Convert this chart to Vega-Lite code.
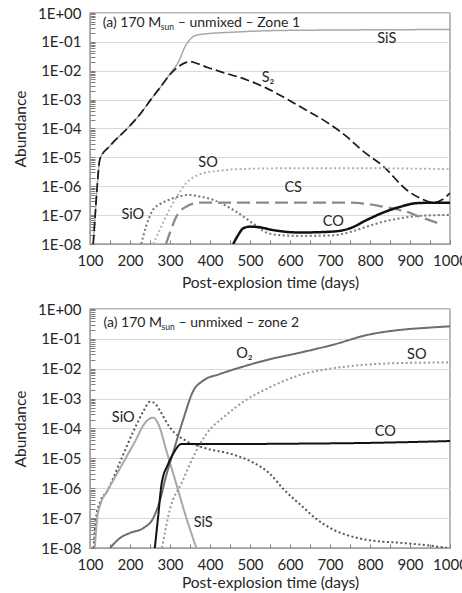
{
  "$schema": "https://vega.github.io/schema/vega-lite/v6.json",
  "padding": {"left": 12, "top": 5, "right": 0, "bottom": 0},
  "spacing": 9,
  "datasets": {
    "zone1": [
      {"species": "SiS", "day": 108, "abundance": 1e-8},
      {"species": "SiS", "day": 113, "abundance": 1e-7},
      {"species": "SiS", "day": 118, "abundance": 1e-6},
      {"species": "SiS", "day": 125, "abundance": 8.9e-6},
      {"species": "SiS", "day": 150, "abundance": 2.5e-5},
      {"species": "SiS", "day": 198, "abundance": 1.17e-4},
      {"species": "SiS", "day": 228, "abundance": 3.5e-4},
      {"species": "SiS", "day": 252, "abundance": 1e-3},
      {"species": "SiS", "day": 280, "abundance": 3.2e-3},
      {"species": "SiS", "day": 300, "abundance": 7.9e-3},
      {"species": "SiS", "day": 320, "abundance": 1.9e-2},
      {"species": "SiS", "day": 340, "abundance": 7.9e-2},
      {"species": "SiS", "day": 355, "abundance": 0.141},
      {"species": "SiS", "day": 366, "abundance": 0.17},
      {"species": "SiS", "day": 391, "abundance": 0.19},
      {"species": "SiS", "day": 450, "abundance": 0.214},
      {"species": "SiS", "day": 554, "abundance": 0.245},
      {"species": "SiS", "day": 700, "abundance": 0.257},
      {"species": "SiS", "day": 850, "abundance": 0.263},
      {"species": "SiS", "day": 1000, "abundance": 0.269},
      {"species": "S2", "day": 108, "abundance": 1e-8},
      {"species": "S2", "day": 113, "abundance": 1e-7},
      {"species": "S2", "day": 118, "abundance": 1e-6},
      {"species": "S2", "day": 125, "abundance": 8.9e-6},
      {"species": "S2", "day": 150, "abundance": 2.5e-5},
      {"species": "S2", "day": 198, "abundance": 1.17e-4},
      {"species": "S2", "day": 228, "abundance": 3.5e-4},
      {"species": "S2", "day": 252, "abundance": 1e-3},
      {"species": "S2", "day": 280, "abundance": 3.2e-3},
      {"species": "S2", "day": 300, "abundance": 7.4e-3},
      {"species": "S2", "day": 320, "abundance": 1.35e-2},
      {"species": "S2", "day": 340, "abundance": 1.95e-2},
      {"species": "S2", "day": 350, "abundance": 2.1e-2},
      {"species": "S2", "day": 362, "abundance": 1.9e-2},
      {"species": "S2", "day": 394, "abundance": 1.3e-2},
      {"species": "S2", "day": 424, "abundance": 9.5e-3},
      {"species": "S2", "day": 491, "abundance": 4.9e-3},
      {"species": "S2", "day": 541, "abundance": 2.5e-3},
      {"species": "S2", "day": 580, "abundance": 1.3e-3},
      {"species": "S2", "day": 625, "abundance": 5.75e-4},
      {"species": "S2", "day": 708, "abundance": 1.17e-4},
      {"species": "S2", "day": 750, "abundance": 4.2e-5},
      {"species": "S2", "day": 775, "abundance": 2e-5},
      {"species": "S2", "day": 834, "abundance": 4.8e-6},
      {"species": "S2", "day": 892, "abundance": 7.4e-7},
      {"species": "S2", "day": 934, "abundance": 3.4e-7},
      {"species": "S2", "day": 959, "abundance": 2.7e-7},
      {"species": "S2", "day": 980, "abundance": 3.4e-7},
      {"species": "S2", "day": 1000, "abundance": 5.75e-7},
      {"species": "SO", "day": 258, "abundance": 1e-8},
      {"species": "SO", "day": 275, "abundance": 3.2e-8},
      {"species": "SO", "day": 298, "abundance": 1.5e-7},
      {"species": "SO", "day": 320, "abundance": 5e-7},
      {"species": "SO", "day": 340, "abundance": 1.26e-6},
      {"species": "SO", "day": 360, "abundance": 2.1e-6},
      {"species": "SO", "day": 382, "abundance": 2.8e-6},
      {"species": "SO", "day": 420, "abundance": 3.4e-6},
      {"species": "SO", "day": 466, "abundance": 3.9e-6},
      {"species": "SO", "day": 600, "abundance": 4.2e-6},
      {"species": "SO", "day": 800, "abundance": 4.2e-6},
      {"species": "SO", "day": 1000, "abundance": 3.9e-6},
      {"species": "SiO", "day": 228, "abundance": 1e-8},
      {"species": "SiO", "day": 240, "abundance": 4e-8},
      {"species": "SiO", "day": 257, "abundance": 1.5e-7},
      {"species": "SiO", "day": 275, "abundance": 2.4e-7},
      {"species": "SiO", "day": 298, "abundance": 3.4e-7},
      {"species": "SiO", "day": 325, "abundance": 4.5e-7},
      {"species": "SiO", "day": 348, "abundance": 5e-7},
      {"species": "SiO", "day": 375, "abundance": 4.4e-7},
      {"species": "SiO", "day": 407, "abundance": 3.4e-7},
      {"species": "SiO", "day": 440, "abundance": 2.1e-7},
      {"species": "SiO", "day": 466, "abundance": 1.3e-7},
      {"species": "SiO", "day": 507, "abundance": 5.2e-8},
      {"species": "SiO", "day": 541, "abundance": 2.5e-8},
      {"species": "SiO", "day": 580, "abundance": 2e-8},
      {"species": "SiO", "day": 625, "abundance": 1.9e-8},
      {"species": "SiO", "day": 708, "abundance": 2e-8},
      {"species": "SiO", "day": 750, "abundance": 2.6e-8},
      {"species": "SiO", "day": 792, "abundance": 4e-8},
      {"species": "SiO", "day": 835, "abundance": 6e-8},
      {"species": "SiO", "day": 876, "abundance": 7.8e-8},
      {"species": "SiO", "day": 917, "abundance": 9.3e-8},
      {"species": "SiO", "day": 1000, "abundance": 1.02e-7},
      {"species": "CS", "day": 290, "abundance": 1e-8},
      {"species": "CS", "day": 300, "abundance": 2.5e-8},
      {"species": "CS", "day": 316, "abundance": 8.9e-8},
      {"species": "CS", "day": 340, "abundance": 1.95e-7},
      {"species": "CS", "day": 374, "abundance": 2.7e-7},
      {"species": "CS", "day": 500, "abundance": 2.7e-7},
      {"species": "CS", "day": 750, "abundance": 2.7e-7},
      {"species": "CS", "day": 834, "abundance": 1.95e-7},
      {"species": "CS", "day": 892, "abundance": 1.3e-7},
      {"species": "CS", "day": 934, "abundance": 7.8e-8},
      {"species": "CS", "day": 972, "abundance": 5.2e-8},
      {"species": "CO", "day": 458, "abundance": 1e-8},
      {"species": "CO", "day": 470, "abundance": 2e-8},
      {"species": "CO", "day": 483, "abundance": 3.5e-8},
      {"species": "CO", "day": 500, "abundance": 4e-8},
      {"species": "CO", "day": 524, "abundance": 3.8e-8},
      {"species": "CO", "day": 554, "abundance": 3.1e-8},
      {"species": "CO", "day": 625, "abundance": 2.5e-8},
      {"species": "CO", "day": 708, "abundance": 2.7e-8},
      {"species": "CO", "day": 750, "abundance": 3.5e-8},
      {"species": "CO", "day": 792, "abundance": 6.8e-8},
      {"species": "CO", "day": 835, "abundance": 1.26e-7},
      {"species": "CO", "day": 876, "abundance": 1.95e-7},
      {"species": "CO", "day": 917, "abundance": 2.6e-7},
      {"species": "CO", "day": 960, "abundance": 2.7e-7},
      {"species": "CO", "day": 1000, "abundance": 2.7e-7}
    ],
    "zone2": [
      {"species": "SiO", "day": 109, "abundance": 1e-8},
      {"species": "SiO", "day": 115, "abundance": 1e-7},
      {"species": "SiO", "day": 126, "abundance": 3.7e-7},
      {"species": "SiO", "day": 143, "abundance": 8e-7},
      {"species": "SiO", "day": 176, "abundance": 8.1e-6},
      {"species": "SiO", "day": 209, "abundance": 8.3e-5},
      {"species": "SiO", "day": 234, "abundance": 3.9e-4},
      {"species": "SiO", "day": 250, "abundance": 7.9e-4},
      {"species": "SiO", "day": 262, "abundance": 7e-4},
      {"species": "SiO", "day": 275, "abundance": 3.9e-4},
      {"species": "SiO", "day": 300, "abundance": 1.07e-4},
      {"species": "SiO", "day": 341, "abundance": 3.8e-5},
      {"species": "SiO", "day": 383, "abundance": 2.3e-5},
      {"species": "SiO", "day": 461, "abundance": 1.3e-5},
      {"species": "SiO", "day": 510, "abundance": 7e-6},
      {"species": "SiO", "day": 548, "abundance": 3.2e-6},
      {"species": "SiO", "day": 585, "abundance": 9e-7},
      {"species": "SiO", "day": 630, "abundance": 2.5e-7},
      {"species": "SiO", "day": 668, "abundance": 8.9e-8},
      {"species": "SiO", "day": 710, "abundance": 4e-8},
      {"species": "SiO", "day": 751, "abundance": 2.5e-8},
      {"species": "SiO", "day": 800, "abundance": 1.8e-8},
      {"species": "SiO", "day": 876, "abundance": 1.5e-8},
      {"species": "SiO", "day": 950, "abundance": 1.2e-8},
      {"species": "SiO", "day": 995, "abundance": 1e-8},
      {"species": "SiS", "day": 112, "abundance": 1e-8},
      {"species": "SiS", "day": 118, "abundance": 1e-7},
      {"species": "SiS", "day": 126, "abundance": 2.9e-7},
      {"species": "SiS", "day": 143, "abundance": 7.9e-7},
      {"species": "SiS", "day": 176, "abundance": 4.9e-6},
      {"species": "SiS", "day": 209, "abundance": 3e-5},
      {"species": "SiS", "day": 242, "abundance": 1.8e-4},
      {"species": "SiS", "day": 258, "abundance": 2.3e-4},
      {"species": "SiS", "day": 271, "abundance": 1.4e-4},
      {"species": "SiS", "day": 291, "abundance": 1.8e-5},
      {"species": "SiS", "day": 316, "abundance": 1.35e-6},
      {"species": "SiS", "day": 341, "abundance": 1e-7},
      {"species": "SiS", "day": 366, "abundance": 1e-8},
      {"species": "O2", "day": 150, "abundance": 1e-8},
      {"species": "O2", "day": 176, "abundance": 2.2e-8},
      {"species": "O2", "day": 200, "abundance": 3.2e-8},
      {"species": "O2", "day": 234, "abundance": 4.7e-8},
      {"species": "O2", "day": 258, "abundance": 1e-7},
      {"species": "O2", "day": 275, "abundance": 4e-7},
      {"species": "O2", "day": 290, "abundance": 2.5e-6},
      {"species": "O2", "day": 308, "abundance": 1.6e-5},
      {"species": "O2", "day": 333, "abundance": 2e-4},
      {"species": "O2", "day": 358, "abundance": 1.8e-3},
      {"species": "O2", "day": 383, "abundance": 4e-3},
      {"species": "O2", "day": 424, "abundance": 6.6e-3},
      {"species": "O2", "day": 490, "abundance": 1.26e-2},
      {"species": "O2", "day": 544, "abundance": 2e-2},
      {"species": "O2", "day": 627, "abundance": 3.5e-2},
      {"species": "O2", "day": 710, "abundance": 6.5e-2},
      {"species": "O2", "day": 793, "abundance": 0.135},
      {"species": "O2", "day": 876, "abundance": 0.2},
      {"species": "O2", "day": 940, "abundance": 0.234},
      {"species": "O2", "day": 1000, "abundance": 0.263},
      {"species": "CO", "day": 262, "abundance": 1e-8},
      {"species": "CO", "day": 270, "abundance": 1e-7},
      {"species": "CO", "day": 279, "abundance": 1.4e-6},
      {"species": "CO", "day": 295, "abundance": 6.3e-6},
      {"species": "CO", "day": 310, "abundance": 1.6e-5},
      {"species": "CO", "day": 328, "abundance": 3e-5},
      {"species": "CO", "day": 400, "abundance": 3e-5},
      {"species": "CO", "day": 600, "abundance": 3.1e-5},
      {"species": "CO", "day": 800, "abundance": 3.3e-5},
      {"species": "CO", "day": 1000, "abundance": 3.8e-5},
      {"species": "SO", "day": 280, "abundance": 1e-8},
      {"species": "SO", "day": 300, "abundance": 2e-7},
      {"species": "SO", "day": 330, "abundance": 1.6e-6},
      {"species": "SO", "day": 360, "abundance": 1.26e-5},
      {"species": "SO", "day": 390, "abundance": 6.3e-5},
      {"species": "SO", "day": 440, "abundance": 2.8e-4},
      {"species": "SO", "day": 490, "abundance": 9e-4},
      {"species": "SO", "day": 544, "abundance": 2.2e-3},
      {"species": "SO", "day": 627, "abundance": 6.3e-3},
      {"species": "SO", "day": 710, "abundance": 1.05e-2},
      {"species": "SO", "day": 793, "abundance": 1.38e-2},
      {"species": "SO", "day": 876, "abundance": 1.55e-2},
      {"species": "SO", "day": 1000, "abundance": 1.62e-2}
    ],
    "labels1": [
      {"label": "SiS", "day": 842, "abundance": 0.126},
      {"label": "S₂", "day": 545, "abundance": 5.6e-3},
      {"label": "SO", "day": 395, "abundance": 6.3e-6},
      {"label": "CS", "day": 608, "abundance": 8.5e-7},
      {"label": "SiO", "day": 207, "abundance": 1e-7},
      {"label": "CO", "day": 708, "abundance": 5.9e-8}
    ],
    "labels2": [
      {"label": "O₂", "day": 486, "abundance": 3.1e-2},
      {"label": "SO", "day": 917, "abundance": 2.95e-2},
      {"label": "SiO", "day": 183, "abundance": 2.3e-4},
      {"label": "CO", "day": 838, "abundance": 7.9e-5},
      {"label": "SiS", "day": 383, "abundance": 6.9e-8}
    ],
    "title1": [
      {"day": 132, "abundance": 0.44, "a": "(a) 170 M", "b": "sun", "c": "– unmixed – Zone 1"}
    ],
    "title2": [
      {"day": 134, "abundance": 0.34, "a": "(a) 170 M", "b": "sun", "c": "– unmixed – zone 2"}
    ]
  },
  "vconcat": [
    {
      "width": 360,
      "height": 231,
      "encoding": {
        "x": {"field": "day", "type": "quantitative",
          "scale": {"domain": [100, 1000], "nice": false},
          "axis": {"title": "Post-explosion time (days)", "values": [100,150,200,250,300,350,400,450,500,550,600,650,700,750,800,850,900,950,1000],
            "labelExpr": "datum.value % 100 == 0 ? format(datum.value, 'd') : ''", "grid": false, "tickSize": -4, "labelPadding": 13, "titlePadding": 7, "labelFlush": false, "labelOverlap": false}},
        "y": {"field": "abundance", "type": "quantitative",
          "scale": {"type": "log", "domain": [1e-8, 1], "nice": false},
          "axis": {"title": "Abundance",
            "values": [1e-8,2e-8,3e-8,4e-8,5e-8,6e-8,7e-8,8e-8,9e-8,1e-7,2e-7,3e-7,4e-7,5e-7,6e-7,7e-7,8e-7,9e-7,1e-6,2e-6,3e-6,4e-6,5e-6,6e-6,7e-6,8e-6,9e-6,1e-5,2e-5,3e-5,4e-5,5e-5,6e-5,7e-5,8e-5,9e-5,1e-4,2e-4,3e-4,4e-4,5e-4,6e-4,7e-4,8e-4,9e-4,1e-3,2e-3,3e-3,4e-3,5e-3,6e-3,7e-3,8e-3,9e-3,1e-2,2e-2,3e-2,4e-2,5e-2,6e-2,7e-2,8e-2,9e-2,0.1,0.2,0.3,0.4,0.5,0.6,0.7,0.8,0.9,1],
            "labelExpr": "abs(log(datum.value)/LN10 - round(log(datum.value)/LN10)) < 0.01 ? (datum.value > 0.5 ? '1E+00' : '1E-0' + (-round(log(datum.value)/LN10))) : ''",
            "grid": true,
            "gridOpacity": {"condition": {"test": "abs(log(datum.value)/LN10 - round(log(datum.value)/LN10)) < 0.01", "value": 1}, "value": 0},
            "tickSize": -5, "labelPadding": 14, "titlePadding": 9, "labelOverlap": false, "labelFlush": false, "labelBound": false}}
      },
      "layer": [
        {
          "data": {"name": "zone1"},
          "mark": {"type": "line", "interpolate": "monotone", "clip": true},
          "encoding": {
            "detail": {"field": "species"},
            "color": {"field": "species", "type": "nominal", "legend": null,
              "scale": {"domain": ["SiS", "S2", "SO", "SiO", "CS", "CO"], "range": ["#a8a8a8", "#1a1a1a", "#b0b0b0", "#7a7a7a", "#8a8a8a", "#111111"]}},
            "strokeDash": {"field": "species", "type": "nominal", "legend": null,
              "scale": {"domain": ["SiS", "S2", "SO", "SiO", "CS", "CO"], "range": [[1, 0], [9, 4], [2, 2.5], [2, 2.5], [13, 6], [1, 0]]}},
            "strokeWidth": {"field": "species", "type": "nominal", "legend": null,
              "scale": {"domain": ["SiS", "S2", "SO", "SiO", "CS", "CO"], "range": [1.5, 2.5, 2, 2, 2.5, 2]}}
          }
        },
        {
          "data": {"name": "labels1"},
          "mark": {"type": "text", "font": "Lato", "fontSize": 14.5, "color": "#262626", "align": "center", "baseline": "middle"},
          "encoding": {"text": {"field": "label"}}
        },
        {
          "data": {"name": "title1"},
          "mark": {"type": "text", "font": "Lato", "fontSize": 14, "color": "#262626", "align": "left", "baseline": "middle"},
          "encoding": {"text": {"field": "a"}}
        },
        {
          "data": {"name": "title1"},
          "mark": {"type": "text", "font": "Lato", "fontSize": 8.5, "color": "#262626", "align": "left", "baseline": "middle", "dx": 58, "dy": 4},
          "encoding": {"text": {"field": "b"}}
        },
        {
          "data": {"name": "title1"},
          "mark": {"type": "text", "font": "Lato", "fontSize": 14, "color": "#262626", "align": "left", "baseline": "middle", "dx": 75},
          "encoding": {"text": {"field": "c"}}
        }
      ]
    },
    {
      "width": 360,
      "height": 239,
      "encoding": {
        "x": {"field": "day", "type": "quantitative",
          "scale": {"domain": [100, 1000], "nice": false},
          "axis": {"title": "Post-explosion time (days)", "values": [100,150,200,250,300,350,400,450,500,550,600,650,700,750,800,850,900,950,1000],
            "labelExpr": "datum.value % 100 == 0 ? format(datum.value, 'd') : ''", "grid": false, "tickSize": -4, "labelPadding": 13, "titlePadding": 3, "labelFlush": false, "labelOverlap": false}},
        "y": {"field": "abundance", "type": "quantitative",
          "scale": {"type": "log", "domain": [1e-8, 1], "nice": false},
          "axis": {"title": "Abundance",
            "values": [1e-8,2e-8,3e-8,4e-8,5e-8,6e-8,7e-8,8e-8,9e-8,1e-7,2e-7,3e-7,4e-7,5e-7,6e-7,7e-7,8e-7,9e-7,1e-6,2e-6,3e-6,4e-6,5e-6,6e-6,7e-6,8e-6,9e-6,1e-5,2e-5,3e-5,4e-5,5e-5,6e-5,7e-5,8e-5,9e-5,1e-4,2e-4,3e-4,4e-4,5e-4,6e-4,7e-4,8e-4,9e-4,1e-3,2e-3,3e-3,4e-3,5e-3,6e-3,7e-3,8e-3,9e-3,1e-2,2e-2,3e-2,4e-2,5e-2,6e-2,7e-2,8e-2,9e-2,0.1,0.2,0.3,0.4,0.5,0.6,0.7,0.8,0.9,1],
            "labelExpr": "abs(log(datum.value)/LN10 - round(log(datum.value)/LN10)) < 0.01 ? (datum.value > 0.5 ? '1E+00' : '1E-0' + (-round(log(datum.value)/LN10))) : ''",
            "grid": true,
            "gridOpacity": {"condition": {"test": "abs(log(datum.value)/LN10 - round(log(datum.value)/LN10)) < 0.01", "value": 1}, "value": 0},
            "tickSize": -5, "labelPadding": 14, "titlePadding": 9, "labelOverlap": false, "labelFlush": false, "labelBound": false}}
      },
      "layer": [
        {
          "data": {"name": "zone2"},
          "mark": {"type": "line", "interpolate": "monotone", "clip": true},
          "encoding": {
            "detail": {"field": "species"},
            "color": {"field": "species", "type": "nominal", "legend": null,
              "scale": {"domain": ["SiO", "SiS", "O2", "CO", "SO"], "range": ["#555555", "#a8a8a8", "#6e6e6e", "#111111", "#999999"]}},
            "strokeDash": {"field": "species", "type": "nominal", "legend": null,
              "scale": {"domain": ["SiO", "SiS", "O2", "CO", "SO"], "range": [[2, 2.5], [1, 0], [1, 0], [1, 0], [2, 2.5]]}},
            "strokeWidth": {"field": "species", "type": "nominal", "legend": null,
              "scale": {"domain": ["SiO", "SiS", "O2", "CO", "SO"], "range": [2, 2, 2.5, 2.5, 2]}}
          }
        },
        {
          "data": {"name": "labels2"},
          "mark": {"type": "text", "font": "Lato", "fontSize": 14.5, "color": "#262626", "align": "center", "baseline": "middle"},
          "encoding": {"text": {"field": "label"}}
        },
        {
          "data": {"name": "title2"},
          "mark": {"type": "text", "font": "Lato", "fontSize": 14, "color": "#262626", "align": "left", "baseline": "middle"},
          "encoding": {"text": {"field": "a"}}
        },
        {
          "data": {"name": "title2"},
          "mark": {"type": "text", "font": "Lato", "fontSize": 8.5, "color": "#262626", "align": "left", "baseline": "middle", "dx": 58, "dy": 4},
          "encoding": {"text": {"field": "b"}}
        },
        {
          "data": {"name": "title2"},
          "mark": {"type": "text", "font": "Lato", "fontSize": 14, "color": "#262626", "align": "left", "baseline": "middle", "dx": 75},
          "encoding": {"text": {"field": "c"}}
        }
      ]
    }
  ],
  "resolve": {"scale": {"color": "independent", "strokeDash": "independent", "strokeWidth": "independent"}},
  "config": {
    "font": "Lato",
    "view": {"stroke": "#a0a0a0", "strokeWidth": 1.5},
    "axis": {"labelFont": "Lato", "labelFontSize": 15, "labelColor": "#262626", "titleFont": "Lato", "titleFontSize": 15.5, "titleFontWeight": "normal", "titleColor": "#262626", "domainColor": "#a0a0a0", "tickColor": "#808080", "tickWidth": 1, "gridColor": "#d9d9d9"}
  }
}
